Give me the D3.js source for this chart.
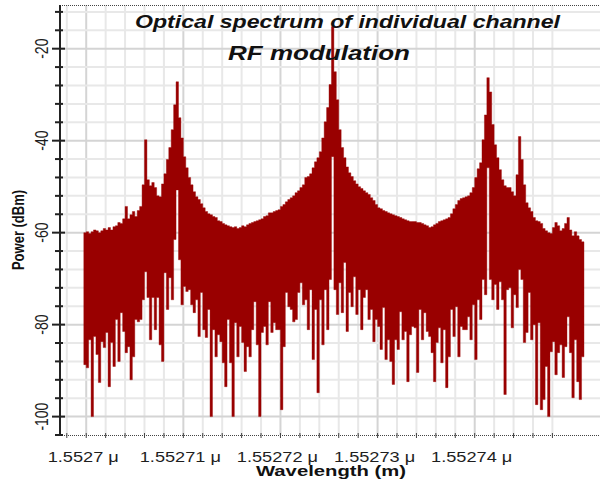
<!DOCTYPE html>
<html>
<head>
<meta charset="utf-8">
<script src="https://cdn.jsdelivr.net/npm/d3@7"></script>
<style>
  html, body { margin: 0; padding: 0; background: #ffffff; }
  svg { display: block; font-family: "Liberation Sans", Arial, sans-serif; }
</style>
</head>
<body>
<svg id="chart" width="600" height="484"></svg>
<script>
// Spectrum samples: evenly spaced wavelength bins (m); for each bin the
// highest and lowest power reached inside it (dBm).
const sampleStart = 1.55269975e-6;
const sampleStep = 2.5e-13;

const upperPower = [
  -60.0, -59.8, -60.2, -59.8, -59.4, -59.6, -60.0, -59.6, -59.1, -59.4,
  -58.9, -59.4, -58.7, -58.5, -57.8, -58.0, -57.0, -54.3, -57.0, -56.1,
  -55.4, -56.5, -55.2, -54.3, -49.6, -39.8, -48.5, -49.8, -49.1, -50.2,
  -52.0, -52.2, -49.4, -47.2, -44.1, -41.5, -37.6, -32.2, -27.2, -35.0,
  -39.4, -43.5, -45.9, -48.0, -49.6, -51.1, -52.2, -52.8, -53.7, -54.6,
  -55.4, -55.9, -56.1, -56.5, -56.7, -57.4, -57.6, -58.0, -58.3, -58.5,
  -58.7, -58.9, -58.7, -59.1, -58.9, -58.5, -58.7, -58.3, -58.0, -57.8,
  -57.6, -57.4, -57.2, -57.0, -56.5, -56.3, -55.7, -55.7, -55.4, -55.2,
  -55.0, -54.3, -53.9, -53.3, -52.8, -52.4, -52.0, -51.3, -50.9, -50.2,
  -49.6, -48.0, -47.8, -47.2, -45.9, -44.6, -43.7, -42.4, -39.4, -35.9,
  -32.8, -27.8, -15.2, -25.0, -31.1, -37.6, -41.5, -43.7, -45.7, -47.0,
  -47.8, -48.7, -49.4, -50.0, -50.4, -50.9, -51.3, -51.7, -52.4, -53.0,
  -53.9, -54.6, -54.8, -55.2, -55.4, -55.7, -55.9, -56.1, -56.3, -56.5,
  -56.7, -57.0, -57.2, -57.4, -57.6, -57.6, -57.6, -57.8, -57.8, -58.0,
  -58.3, -58.5, -58.9, -58.7, -58.3, -58.0, -57.6, -57.4, -57.2, -57.0,
  -56.7, -55.9, -54.8, -53.9, -53.0, -52.6, -52.4, -52.2, -52.0, -51.3,
  -50.2, -48.0, -46.1, -44.8, -39.8, -34.4, -26.3, -29.4, -36.5, -40.9,
  -43.7, -46.3, -48.5, -49.8, -50.2, -50.2, -51.1, -52.0, -47.4, -39.1,
  -44.1, -49.6, -53.5, -54.6, -55.4, -56.7, -57.4, -57.6, -58.0, -59.1,
  -59.6, -60.0, -60.2, -58.9, -57.8, -58.5, -59.6, -59.1, -58.0, -56.7,
  -59.4, -60.7, -59.8, -60.7, -61.5, -62.0
];

const lowerPower = [
  -88.7, -89.4, -83.3, -100.0, -82.6, -86.5, -92.6, -83.7, -85.0, -81.7,
  -93.5, -83.9, -89.1, -78.9, -88.0, -77.4, -81.5, -86.1, -84.8, -92.0,
  -87.0, -78.9, -79.4, -78.9, -74.6, -68.5, -74.1, -83.3, -74.1, -81.1,
  -74.1, -84.4, -88.0, -68.7, -76.7, -69.8, -74.6, -61.5, -50.7, -65.9,
  -75.7, -71.7, -72.8, -72.4, -75.7, -77.4, -74.6, -82.6, -73.0, -81.1,
  -82.8, -76.7, -100.0, -81.1, -87.0, -82.2, -83.7, -88.3, -93.5, -78.9,
  -88.3, -100.0, -79.6, -87.0, -80.4, -83.9, -90.2, -84.8, -87.0, -81.1,
  -75.0, -84.4, -100.0, -81.7, -80.4, -84.4, -75.0, -81.7, -79.6, -81.1,
  -81.1, -98.5, -84.8, -73.0, -76.1, -76.7, -79.4, -78.9, -73.0, -70.9,
  -75.7, -74.6, -81.1, -72.4, -87.6, -76.7, -94.8, -74.6, -84.4, -72.4,
  -81.1, -70.2, -43.5, -72.4, -77.8, -70.9, -77.4, -66.5, -81.5, -73.0,
  -76.1, -69.6, -77.8, -72.4, -81.1, -74.1, -72.4, -78.9, -76.7, -83.7,
  -78.9, -80.4, -85.4, -76.3, -87.6, -83.3, -88.0, -93.0, -83.3, -85.4,
  -77.2, -83.3, -81.5, -92.4, -82.2, -80.4, -80.7, -90.4, -76.7, -83.3,
  -77.4, -81.5, -82.6, -86.1, -92.4, -83.9, -80.7, -88.3, -81.1, -93.7,
  -87.0, -76.7, -82.6, -76.1, -87.0, -80.4, -81.1, -81.1, -78.3, -83.3,
  -75.7, -87.6, -74.6, -78.9, -70.2, -73.5, -45.9, -70.2, -74.6, -71.3,
  -76.7, -70.7, -74.6, -95.2, -72.4, -72.0, -80.7, -73.5, -76.3, -68.0,
  -70.2, -83.9, -81.7, -73.0, -83.3, -80.0, -97.4, -79.6, -98.5, -96.3,
  -89.1, -100.0, -85.9, -83.7, -90.9, -86.1, -84.4, -91.5, -84.8, -78.3,
  -86.1, -95.9, -83.3, -92.4, -96.3, -87.0
];

// Axis ticks and labels
const xTickValues = [1.5527e-6, 1.55271e-6, 1.55272e-6, 1.55273e-6, 1.55274e-6];
const xTickLabels = ["1.5527 \u03bc", "1.55271 \u03bc", "1.55272 \u03bc", "1.55273 \u03bc", "1.55274 \u03bc"];
const yTickValues = [-100, -80, -60, -40, -20];
const yTickLabels = ["-100", "-80", "-60", "-40", "-20"];

const titleLines = ["Optical spectrum of individual channel", "RF modulation"];
const xAxisTitle = "Wavelength (m)";
const yAxisTitle = "Power (dBm)";

// ---------------------------------------------------------------------------
const svg = d3.select("#chart");
const plot = { left: 60, right: 600, top: 5, bottom: 435 };

const x = d3.scaleLinear().domain([1.5526973e-6, 1.5527529e-6]).range([plot.left, plot.right]);
const y = d3.scaleLinear().domain([-104, -10.5]).range([plot.bottom, plot.top]);

// minor divisions: 5 per major step on each axis
const xMinor = d3.range(0, 26).map(k => (1552698 + 2 * k) * 1e-12);
const yMinor = d3.range(-100, -10, 4);

const textColor = "#1e1e1e";
const stretch = 1.3; // wide rendering of glyphs

// grid
const grid = svg.append("g");
grid.selectAll("line.vx").data(xMinor).join("line")
  .attr("x1", d => x(d)).attr("x2", d => x(d))
  .attr("y1", plot.top).attr("y2", plot.bottom)
  .attr("stroke", (d, i) => (i % 5 === 1) ? "#d4d4d4" : "#e8e8e8")
  .attr("stroke-width", 2);
grid.selectAll("line.hy").data(yMinor).join("line")
  .attr("x1", plot.left).attr("x2", plot.right)
  .attr("y1", d => y(d)).attr("y2", d => y(d))
  .attr("stroke", d => (d % 20 === 0) ? "#d4d4d4" : "#e8e8e8")
  .attr("stroke-width", 2);

// spectrum: one filled band, stepping from bin to bin between the
// lowest and highest power of each bin
const bins = upperPower.map((u, i) => ({
  w: sampleStart + i * sampleStep,
  hi: u,
  lo: lowerPower[i]
}));
const last = bins[bins.length - 1];
bins.push({ w: last.w + sampleStep, hi: last.hi, lo: last.lo });

const band = d3.area()
  .x(d => x(d.w))
  .y0(d => y(d.lo))
  .y1(d => y(d.hi))
  .curve(d3.curveStepAfter);

svg.append("path")
  .datum(bins)
  .attr("d", band)
  .attr("fill", "#990000")
  .attr("stroke", "#990000")
  .attr("stroke-width", 0.4)
  .attr("stroke-linejoin", "miter");

// frame: dotted top and bottom edges
svg.append("line")
  .attr("x1", plot.left).attr("x2", plot.right)
  .attr("y1", plot.top + 0.5).attr("y2", plot.top + 0.5)
  .attr("stroke", "#444").attr("stroke-width", 1).attr("stroke-dasharray", "1,1");
svg.append("line")
  .attr("x1", plot.left).attr("x2", plot.right)
  .attr("y1", plot.bottom + 0.5).attr("y2", plot.bottom + 0.5)
  .attr("stroke", "#444").attr("stroke-width", 1).attr("stroke-dasharray", "1,1");

// x tick marks on the bottom edge
svg.append("g").selectAll("line").data(xMinor).join("line")
  .attr("x1", d => x(d)).attr("x2", d => x(d))
  .attr("y1", plot.bottom - 2).attr("y2", plot.bottom + 3)
  .attr("stroke", "#444").attr("stroke-width", 1);

// y axis line and ticks
svg.append("line")
  .attr("x1", plot.left).attr("x2", plot.left)
  .attr("y1", plot.top).attr("y2", plot.bottom + 1)
  .attr("stroke", "#222").attr("stroke-width", 2);
svg.append("g").selectAll("line").data(yMinor).join("line")
  .attr("x1", d => (d % 20 === 0) ? plot.left - 8 : plot.left - 5)
  .attr("x2", d => (d % 20 === 0) ? plot.left + 5 : plot.left + 3)
  .attr("y1", d => y(d)).attr("y2", d => y(d))
  .attr("stroke", "#222").attr("stroke-width", 2);
svg.append("line")
  .attr("x1", plot.left - 5).attr("x2", plot.left + 3)
  .attr("y1", plot.bottom).attr("y2", plot.bottom)
  .attr("stroke", "#222").attr("stroke-width", 2);

// y tick labels (rotated)
svg.append("g").selectAll("text").data(yTickValues).join("text")
  .attr("transform", d => `translate(48,${y(d)}) scale(${stretch},1) rotate(-90)`)
  .attr("text-anchor", "middle")
  .attr("font-size", 14)
  .attr("fill", textColor)
  .text((d, i) => yTickLabels[i]);

// x tick labels
svg.append("g").selectAll("text").data(xTickValues).join("text")
  .attr("transform", d => `translate(${x(d) - 3},462) scale(${stretch},1)`)
  .attr("text-anchor", "middle")
  .attr("font-size", 14)
  .attr("fill", textColor)
  .text((d, i) => xTickLabels[i]);

// axis titles
svg.append("text")
  .attr("x", 331).attr("y", 476)
  .attr("text-anchor", "middle")
  .attr("font-size", 14).attr("font-weight", "bold")
  .attr("textLength", 150).attr("lengthAdjust", "spacingAndGlyphs")
  .attr("fill", "#111")
  .text(xAxisTitle);
svg.append("text")
  .attr("transform", `translate(24,230) scale(${stretch},1) rotate(-90)`)
  .attr("text-anchor", "middle")
  .attr("font-size", 13).attr("font-weight", "bold")
  .attr("fill", "#111")
  .text(yAxisTitle);

// chart title
svg.append("text")
  .attr("x", 135).attr("y", 28)
  .attr("font-size", 18).attr("font-weight", "bold").attr("font-style", "italic")
  .attr("textLength", 425).attr("lengthAdjust", "spacingAndGlyphs")
  .attr("fill", "#111")
  .text(titleLines[0]);
svg.append("text")
  .attr("x", 228).attr("y", 60)
  .attr("font-size", 20).attr("font-weight", "bold").attr("font-style", "italic")
  .attr("textLength", 182).attr("lengthAdjust", "spacingAndGlyphs")
  .attr("fill", "#111")
  .text(titleLines[1]);
</script>
</body>
</html>
